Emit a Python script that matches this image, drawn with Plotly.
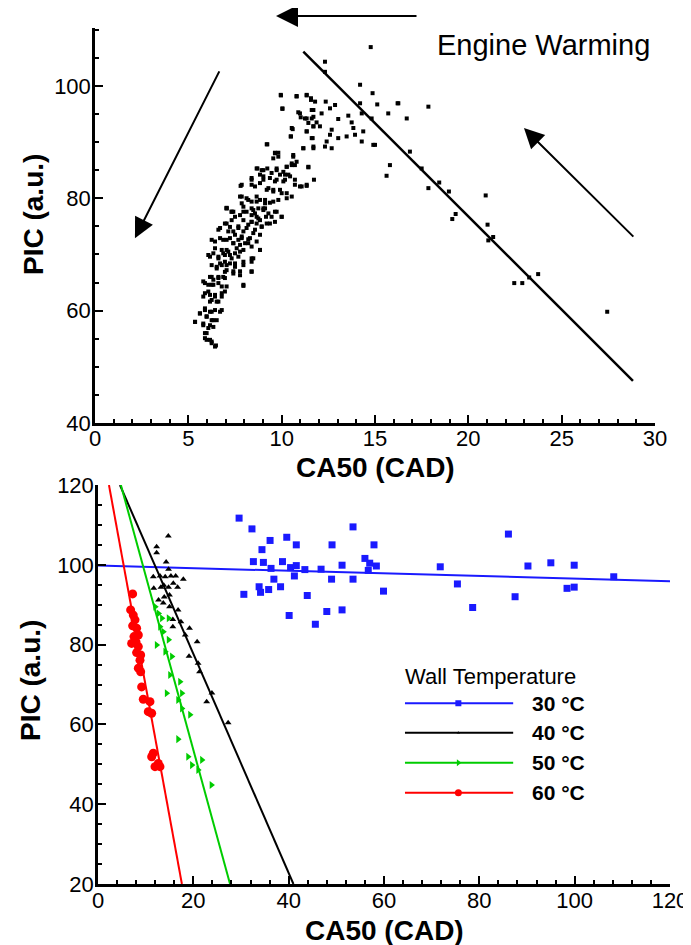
import plotly.graph_objects as go

# ---------------- Top panel: engine warming ----------------
top_ca50 = [
    9.95, 10.80, 11.34, 11.57, 11.79, 10.04, 12.36, 12.86, 14.20, 14.87, 15.12, 16.25, 17.86,
    10.89, 11.02, 11.34, 11.61, 11.70, 11.87, 11.43, 12.14, 12.59, 13.03, 13.57, 13.75, 14.20,
    14.29, 14.82, 15.71, 16.70, 10.59, 10.48, 11.34, 11.70, 11.66, 12.05, 12.68, 12.59, 13.03,
    13.48, 13.84, 13.93, 14.37, 14.29, 14.91, 12.41, 12.32, 12.68, 11.16, 11.70, 9.23, 9.64,
    9.82, 9.55, 10.62, 10.80, 10.54, 10.27, 11.43, 9.73, 9.91, 10.18, 10.45, 9.23, 8.93, 8.70,
    8.84, 9.02, 9.37, 9.73, 10.09, 10.71, 10.98, 11.34, 11.73, 8.39, 8.57, 8.84, 9.29, 9.55,
    9.91, 10.27, 10.54, 10.27, 7.80, 7.86, 7.86, 8.12, 8.39, 8.66, 8.84, 9.11, 9.37, 9.82,
    8.39, 8.75, 9.11, 7.05, 7.32, 7.50, 7.77, 8.12, 8.39, 8.75, 9.16, 9.46, 9.73, 10.00, 9.64,
    9.37, 6.70, 7.05, 7.23, 7.41, 7.68, 7.95, 8.21, 8.39, 8.66, 8.93, 8.48, 8.84, 6.43, 6.87,
    7.23, 7.41, 7.68, 7.86, 8.04, 8.21, 8.39, 8.84, 6.07, 6.34, 6.61, 6.87, 7.05, 7.23, 7.50,
    7.77, 7.95, 7.50, 8.39, 8.48, 6.25, 6.52, 6.79, 6.96, 7.23, 7.05, 7.41, 7.77, 8.39, 6.16,
    6.34, 6.61, 6.87, 5.80, 6.07, 6.34, 6.79, 6.96, 7.95, 5.89, 6.16, 6.43, 6.79, 6.25, 6.52,
    5.89, 6.16, 6.43, 6.79, 5.62, 5.98, 6.25, 6.52, 5.36, 5.80, 6.07, 6.34, 5.98, 5.89, 6.16,
    6.48, 6.25, 15.00, 15.80, 15.62, 16.87, 17.86, 14.77, 12.32, 12.32, 16.21, 17.50, 18.44,
    18.96, 20.93, 19.32, 19.14, 21.03, 21.33, 21.07, 23.74, 23.26, 22.46, 22.89, 27.44,
    7.05, 7.41, 7.95, 8.48, 9.02, 9.29, 9.64, 10.00, 8.66, 8.84, 8.39, 7.95, 7.32, 6.96, 7.68,
    8.12, 8.57, 8.93, 9.20, 6.61, 7.14, 7.50, 7.86, 8.30, 6.25, 6.70, 7.05, 7.41, 7.77, 8.21,
    8.66, 6.43, 6.79, 7.14, 7.59, 7.95, 6.96, 6.61, 6.16, 7.32, 7.68, 8.39, 8.84, 6.70, 7.05,
    7.50, 7.95, 6.52, 6.96, 7.41, 7.77, 8.39, 6.25, 6.61, 6.96, 5.89, 6.25, 6.61, 7.05, 7.95,
    6.07, 6.43, 6.79, 5.80, 6.16, 6.61, 5.89, 6.25, 6.70, 5.62, 5.98, 6.34, 5.36, 5.80, 6.16,
    5.89, 5.98, 6.25, 6.43,
    9.96, 10.80, 11.34, 11.57, 11.70, 10.04, 10.98, 11.25, 11.61, 11.70, 10.54, 10.50, 11.34,
    11.61, 11.16, 11.70, 9.20, 9.64, 9.82, 10.62, 10.54, 10.27, 10.71, 11.43, 8.66, 9.02, 9.46,
    9.73, 10.09, 10.36, 8.39, 9.02, 9.64, 10.18, 10.71, 11.07, 11.34, 7.86, 8.39, 9.20, 9.55,
    10.00, 7.77, 8.21, 8.66, 9.11, 9.55, 7.05, 7.32, 7.95, 8.57, 9.02,
]
top_pic = [
    98.4, 98.2, 98.4, 97.8, 97.2, 96.0, 97.2, 96.6, 100.2, 98.7, 96.7, 96.9, 96.3,
    95.3, 94.4, 94.2, 95.7, 94.5, 93.5, 93.4, 95.1, 96.0, 94.1, 94.7, 93.5, 96.9,
    95.1, 94.2, 95.1, 94.2, 92.3, 91.0, 91.9, 92.8, 90.7, 92.8, 92.2, 91.3, 90.7,
    91.0, 92.5, 91.3, 91.9, 90.1, 89.5, 90.1, 89.2, 88.9, 88.9, 88.9, 89.6, 88.1,
    88.1, 87.1, 87.4, 86.5, 85.9, 85.6, 85.5, 85.3, 84.2, 84.2, 83.9, 85.3, 85.0, 85.3,
    84.2, 83.9, 83.6, 83.3, 83.0, 83.3, 82.1, 82.2, 83.3, 83.3, 82.1, 82.7, 81.8, 81.5,
    81.5, 80.9, 80.3, 80.0, 82.2, 80.3, 79.1, 80.0, 79.4, 80.3, 79.7, 79.1, 79.2, 79.7,
    78.2, 78.2, 78.2, 78.3, 77.6, 76.7, 77.0, 77.6, 77.0, 76.4, 76.7, 76.7, 77.6, 76.7, 75.8,
    75.5, 74.7, 75.5, 74.9, 74.1, 74.7, 74.1, 75.3, 75.8, 75.5, 74.9, 73.8, 73.5, 72.3, 72.6,
    72.9, 72.0, 72.6, 73.2, 72.0, 72.7, 71.4, 70.8, 69.9, 70.2, 69.6, 70.2, 70.8, 69.9, 70.2,
    70.5, 68.7, 68.4, 68.7, 69.3, 68.1, 67.8, 68.1, 68.7, 68.4, 67.2, 67.0, 67.0, 67.0, 66.0,
    65.5, 65.8, 66.0, 65.2, 64.6, 64.6, 64.3, 63.4, 64.4, 63.1, 62.8, 62.5, 62.5, 61.9, 61.6,
    60.1, 59.8, 60.1, 60.1, 59.5, 59.0, 58.3, 58.3, 58.0, 57.4, 56.9, 57.1, 56.0, 55.1, 54.8,
    53.8, 54.2, 89.5, 85.9, 84.0, 88.3, 81.8, 106.9, 104.3, 102.5, 96.9, 85.3, 82.8,
    81.2, 80.5, 77.2, 76.3, 75.3, 73.1, 72.5, 66.5, 65.9, 64.9, 64.9, 59.8,
    78.2, 77.6, 78.5, 77.9, 78.2, 77.3, 77.6, 76.7, 76.7, 76.1, 75.8, 76.1, 76.1, 75.5, 75.0,
    74.7, 74.4, 75.0, 75.5, 74.4, 74.1, 73.5, 72.9, 72.9, 72.6, 72.9, 72.6, 72.0, 71.7, 72.0,
    72.3, 71.1, 70.8, 70.5, 71.1, 70.8, 69.9, 69.3, 69.6, 69.3, 69.6, 69.3, 70.8, 68.4, 68.1,
    67.8, 68.1, 67.5, 66.9, 66.6, 66.3, 66.9, 66.0, 66.0, 65.8, 64.9, 64.6, 64.9, 64.3, 64.6,
    63.4, 62.8, 63.1, 62.5, 61.6, 61.6, 60.4, 59.8, 59.8, 59.5, 58.9, 58.3, 58.0, 57.7, 57.4,
    56.0, 54.8, 54.5, 53.6,
    98.3, 98.1, 98.3, 97.5, 95.7, 95.9, 95.1, 94.2, 94.2, 92.8, 92.5, 91.0, 91.9,
    90.7, 88.9, 89.2, 89.6, 88.0, 87.4, 87.7, 86.2, 85.6, 85.9, 85.6, 85.3, 85.0, 84.5,
    85.0, 84.7, 84.2, 83.6, 83.3, 83.0, 83.3, 82.4, 82.1, 82.4, 82.4, 82.4, 81.5, 81.2,
    80.9, 80.3, 79.7, 79.4, 79.7, 79.4, 78.2, 77.6, 77.6, 77.3, 77.9,
]
top_fit_ca50 = [11.16, 28.82]
top_fit_pic = [106.1, 47.5]

# ---------------- Bottom panel: wall temperature ----------------
w30_ca50 = [29.6, 32.3, 36.1, 39.6, 41.6, 34.4, 49.1, 53.5, 57.9, 32.6, 34.7, 38.7, 36.3, 40.4,
            41.6, 43.4, 46.8, 51.2, 56.0, 57.0, 58.4, 56.7, 41.2, 36.9, 49.0, 53.5, 33.8, 38.3,
            35.8, 34.1, 30.6, 43.9, 59.9, 40.1, 48.0, 51.2, 45.6, 71.8, 75.4, 78.6, 86.1, 90.2,
            95.0, 99.9, 87.5, 98.4, 99.9, 108.2]
w30_pic = [111.7, 109.0, 106.1, 106.9, 105.0, 103.8, 105.0, 109.5, 105.0, 100.8, 100.6, 100.8,
           99.1, 99.3, 99.8, 98.8, 98.9, 99.9, 101.6, 100.4, 99.7, 98.6, 97.2, 96.4, 96.4, 96.4,
           94.5, 94.5, 93.8, 93.1, 92.6, 92.3, 93.4, 87.3, 88.3, 88.7, 85.1, 99.5, 95.2, 89.3,
           107.7, 99.7, 100.5, 99.9, 92.0, 94.1, 94.4, 97.0]

w40_ca50 = [14.75, 12.3, 12.3, 14.3, 14.8, 11.6, 13.0, 14.1, 15.3, 16.3, 17.9, 11.7, 13.2, 13.8,
            14.8, 15.8, 16.7, 12.7, 13.9, 15.0, 13.7, 15.0, 16.8, 15.7, 15.7, 17.4, 18.3, 19.2,
            20.8, 19.1, 21.0, 21.3, 23.9, 22.8, 27.3]
w40_pic = [107.2, 104.5, 103.0, 100.7, 98.9, 97.0, 97.2, 97.0, 97.2, 97.2, 96.4, 94.1, 94.4, 94.9,
           94.4, 95.4, 94.4, 91.2, 91.9, 92.4, 90.4, 89.5, 88.7, 86.3, 84.5, 85.7, 82.4, 84.1,
           80.7, 77.1, 75.3, 73.2, 67.9, 65.7, 60.4]

w50_ca50 = [12.0, 12.7, 13.4, 14.8, 13.0, 13.7, 12.3, 14.8, 14.1, 15.5, 15.1, 17.2, 14.4, 17.6,
            16.8, 17.6, 19.3, 16.8, 18.9, 19.7, 21.8, 21.0, 23.8]
w50_pic = [89.5, 87.8, 86.6, 86.6, 84.5, 83.2, 79.9, 81.2, 78.2, 77.0, 72.4, 70.7, 67.8, 67.8,
           66.1, 64.0, 62.4, 56.3, 51.9, 49.8, 51.1, 48.6, 44.8]

w60_ca50 = [7.27, 6.85, 7.4, 7.76, 7.27, 8.1, 7.55, 8.46, 7.97, 7.06, 8.46, 8.1, 8.95, 8.81, 8.46,
            8.95, 9.16, 9.5, 10.9, 10.55, 11.26, 11.6, 11.26, 12.65, 13.0, 11.96]
w60_pic = [92.7, 88.7, 87.4, 86.2, 84.7, 84.1, 82.0, 82.4, 80.7, 80.3, 79.5, 78.0, 77.4, 76.1,
           74.1, 73.2, 69.4, 66.3, 65.7, 63.2, 62.8, 52.8, 51.9, 50.2, 49.4, 49.4]

fit30_ca50 = [0, 120]
fit30_pic = [99.8, 95.9]
fit40_ca50 = [4.6, 41.0]
fit40_pic = [120, 20]
fit50_ca50 = [4.8, 27.7]
fit50_pic = [120, 20]
fit60_ca50 = [2.3, 17.6]
fit60_pic = [120, 20]

legend_labels = ["30 °C", "40 °C", "50 °C", "60 °C"]
legend_title = "Wall Temperature"
x_title = "CA50 (CAD)"
y_title = "PIC (a.u.)"

FONT = "Liberation Sans, Arial, sans-serif"

# page geometry: the browser body adds an 8 px margin, so the figure is 683 x 937
W, H, OFF = 683, 937, 8


def fx(px):
    return (px - OFF) / W


def fy(py):
    return (945 - py) / H


fig = go.Figure()

# top panel
fig.add_trace(go.Scatter(x=top_ca50, y=top_pic, mode="markers", xaxis="x", yaxis="y",
                         marker=dict(symbol="square", size=4, color="black"), showlegend=False))
fig.add_trace(go.Scatter(x=top_fit_ca50, y=top_fit_pic, mode="lines", xaxis="x", yaxis="y",
                         line=dict(color="black", width=2.5), showlegend=False))

# bottom panel
series = [
    (w30_ca50, w30_pic, fit30_ca50, fit30_pic, "#1a1aff", "square", 7),
    (w40_ca50, w40_pic, fit40_ca50, fit40_pic, "black", "triangle-up", 6),
    (w50_ca50, w50_pic, fit50_ca50, fit50_pic, "#00cc00", "triangle-right", 7),
    (w60_ca50, w60_pic, fit60_ca50, fit60_pic, "#ff0000", "circle", 9),
]
for xs, ys, fxs, fys, col, sym, sz in series:
    fig.add_trace(go.Scatter(x=fxs, y=fys, mode="lines", xaxis="x2", yaxis="y2",
                             line=dict(color=col, width=2), showlegend=False))
    fig.add_trace(go.Scatter(x=xs, y=ys, mode="markers", xaxis="x2", yaxis="y2",
                             marker=dict(symbol=sym, size=sz, color=col), showlegend=False))

# hand-made legend inside bottom panel
leg_x0, leg_x1, leg_xm, leg_xt = 64.4, 87.1, 75.6, 90.6
leg_ys = [65.3, 57.9, 50.4, 42.9]
leg_msz = [6, 3, 6, 7]
annotations = []
for (xs, ys, fxs, fys, col, sym, sz), ly, lab, msz in zip(series, leg_ys, legend_labels, leg_msz):
    fig.add_trace(go.Scatter(x=[leg_x0, leg_x1], y=[ly, ly], mode="lines", xaxis="x2", yaxis="y2",
                             line=dict(color=col, width=2), showlegend=False))
    fig.add_trace(go.Scatter(x=[leg_xm], y=[ly], mode="markers", xaxis="x2", yaxis="y2",
                             marker=dict(symbol=sym, size=msz, color=col), showlegend=False))
    annotations.append(dict(x=leg_xt, y=ly, xref="x2", yref="y2", text="<b>" + lab + "</b>",
                            showarrow=False, xanchor="left", yanchor="middle",
                            font=dict(family=FONT, size=21, color="black")))
annotations.append(dict(x=64.0, y=72.0, xref="x2", yref="y2", text=legend_title, showarrow=False,
                        xanchor="left", yanchor="middle", font=dict(family=FONT, size=22, color="black")))

# arrows and label in top panel
annotations.append(dict(x=24.05, y=107.3, xref="x", yref="y", text="Engine Warming", showarrow=False,
                        xanchor="center", yanchor="middle", font=dict(family=FONT, size=29, color="black")))
annotations.append(dict(x=fx(276), y=fy(16), xref="paper", yref="paper", text="",
                        showarrow=True, ax=142, ay=0, axref="pixel", ayref="pixel",
                        arrowhead=2, arrowsize=2.0, arrowwidth=2.2, arrowcolor="black", standoff=0))
annotations.append(dict(x=2.14, y=72.9, xref="x", yref="y", ax=6.70, ay=102.85, axref="x", ayref="y",
                        text="", showarrow=True, arrowhead=2, arrowsize=2.0, arrowwidth=2,
                        arrowcolor="black", standoff=0))
annotations.append(dict(x=22.98, y=92.5, xref="x", yref="y", ax=28.92, ay=72.9, axref="x", ayref="y",
                        text="", showarrow=True, arrowhead=2, arrowsize=2.0, arrowwidth=2,
                        arrowcolor="black", standoff=0))

# axis titles
title_font = dict(family=FONT, size=28, color="black")
for tx, ty, ang in [(375, 467, 0), (384, 930, 0), (33, 215, -90), (30, 681, -90)]:
    annotations.append(dict(x=fx(tx), y=fy(ty), xref="paper", yref="paper",
                            text="<b>" + (x_title if ang == 0 else y_title) + "</b>",
                            showarrow=False, textangle=ang, xanchor="center", yanchor="middle",
                            font=title_font))


def axis(domain, rng, dtick, minor_dtick, anchor, standoff):
    return dict(
        domain=domain, range=rng, dtick=dtick, tick0=0, anchor=anchor,
        showline=True, linecolor="black", linewidth=2.5, mirror=False,
        ticks="inside", ticklen=8, tickwidth=2, tickcolor="black",
        showgrid=False, zeroline=False, automargin=False, ticklabelstandoff=standoff,
        tickfont=dict(family=FONT, size=22, color="black"),
        minor=dict(dtick=minor_dtick, tick0=0, ticks="inside", ticklen=4, tickwidth=1.5,
                   tickcolor="black", showgrid=False),
    )


fig.update_layout(
    width=W, height=H,
    margin=dict(l=0, r=0, t=0, b=0),
    paper_bgcolor="white", plot_bgcolor="white",
    showlegend=False,
    xaxis=axis([fx(95), fx(655)], [0, 30], 5, 1, "y", -6),
    yaxis=axis([fy(423), fy(28)], [40, 110.3], 20, 5, "x", -3),
    xaxis2=axis([fx(98), fx(670)], [0, 120], 20, 4, "y2", -5),
    yaxis2=axis([fy(884), fy(485)], [20, 120], 20, 5, "x2", -3),
    annotations=annotations,
)

fig.write_html("out.html")
